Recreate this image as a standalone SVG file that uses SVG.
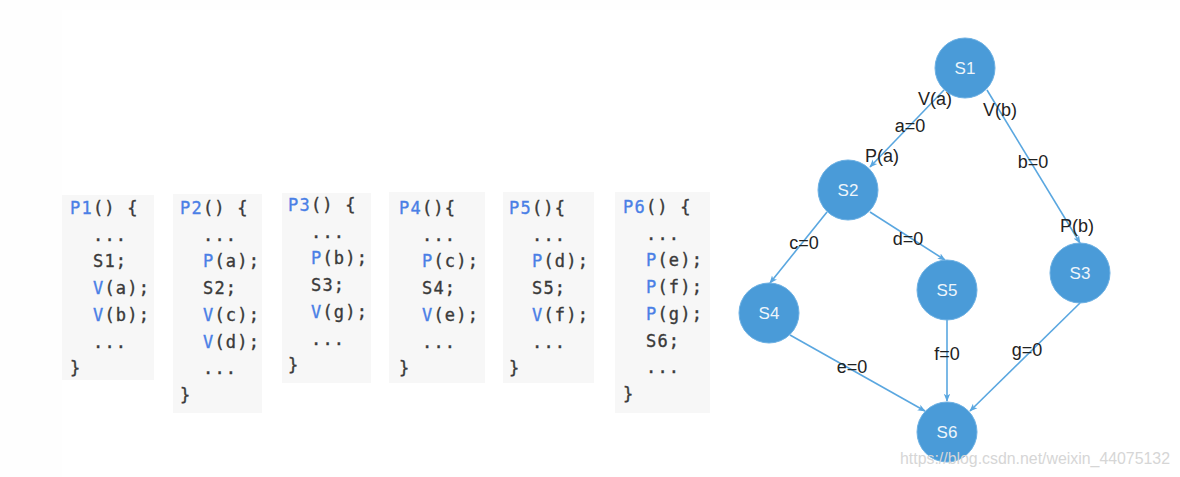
<svg xmlns="http://www.w3.org/2000/svg" width="1180" height="477" viewBox="0 0 1180 477">
<style>
.box{fill:#f7f7f7}
.code{font-family:"DejaVu Sans Mono",monospace;font-size:17px;letter-spacing:1.2px;fill:#3a3a3a;stroke:#3a3a3a;stroke-width:0.35}
.kw{fill:#4a7fe6;stroke:#4a7fe6}
.node circle{fill:#4a9bd8;stroke:#6cb0e3;stroke-width:1}
.node text{font-family:"Liberation Sans",Arial,sans-serif;font-size:17px;fill:#eef5fb;text-anchor:middle}
.edge{stroke:#5aa7e0;stroke-width:1.6;fill:none;marker-end:url(#arr)}
.lbl{font-family:"Liberation Sans",Arial,sans-serif;font-size:18px;fill:#222;text-anchor:middle}
.wm{font-family:"Liberation Sans",Arial,sans-serif;font-size:16px;fill:#d6d6d6}
</style>
<defs>
<marker id="arr" viewBox="0 0 10 10" refX="9" refY="5" markerWidth="5" markerHeight="5" orient="auto" markerUnits="strokeWidth">
<path d="M0,1 L10,5 L0,9 L2.5,5 z" fill="#5aa7e0"/>
</marker>
</defs>
<rect width="1180" height="477" fill="#fefefe"/>
<rect x="62" y="10" width="1118" height="467" fill="#ffffff"/>

<g id="code-P1">
<rect class="box" x="62" y="195" width="92" height="185"/>
<text class="code" x="70" y="214"><tspan class="kw">P1</tspan>() {</text>
<text class="code" x="93" y="240.7">...</text>
<text class="code" x="93" y="267.4">S1;</text>
<text class="code" x="93" y="294.1"><tspan class="kw">V</tspan>(a);</text>
<text class="code" x="93" y="320.8"><tspan class="kw">V</tspan>(b);</text>
<text class="code" x="93" y="347.5">...</text>
<text class="code" x="70" y="374.2">}</text>
</g>

<g id="code-P2">
<rect class="box" x="173" y="194" width="89" height="219"/>
<text class="code" x="180" y="214"><tspan class="kw">P2</tspan>() {</text>
<text class="code" x="203" y="240.7">...</text>
<text class="code" x="203" y="267.4"><tspan class="kw">P</tspan>(a);</text>
<text class="code" x="203" y="294.1">S2;</text>
<text class="code" x="203" y="320.8"><tspan class="kw">V</tspan>(c);</text>
<text class="code" x="203" y="347.5"><tspan class="kw">V</tspan>(d);</text>
<text class="code" x="203" y="374.2">...</text>
<text class="code" x="180" y="400.9">}</text>
</g>

<g id="code-P3">
<rect class="box" x="282" y="193" width="89" height="190"/>
<text class="code" x="288" y="211"><tspan class="kw">P3</tspan>() {</text>
<text class="code" x="311" y="237.7">...</text>
<text class="code" x="311" y="264.4"><tspan class="kw">P</tspan>(b);</text>
<text class="code" x="311" y="291.1">S3;</text>
<text class="code" x="311" y="317.8"><tspan class="kw">V</tspan>(g);</text>
<text class="code" x="311" y="344.5">...</text>
<text class="code" x="288" y="371.2">}</text>
</g>

<g id="code-P4">
<rect class="box" x="389" y="192" width="96" height="191"/>
<text class="code" x="399" y="214"><tspan class="kw">P4</tspan>(){</text>
<text class="code" x="422" y="240.7">...</text>
<text class="code" x="422" y="267.4"><tspan class="kw">P</tspan>(c);</text>
<text class="code" x="422" y="294.1">S4;</text>
<text class="code" x="422" y="320.8"><tspan class="kw">V</tspan>(e);</text>
<text class="code" x="422" y="347.5">...</text>
<text class="code" x="399" y="374.2">}</text>
</g>

<g id="code-P5">
<rect class="box" x="503" y="192" width="91" height="191"/>
<text class="code" x="509" y="214"><tspan class="kw">P5</tspan>(){</text>
<text class="code" x="532" y="240.7">...</text>
<text class="code" x="532" y="267.4"><tspan class="kw">P</tspan>(d);</text>
<text class="code" x="532" y="294.1">S5;</text>
<text class="code" x="532" y="320.8"><tspan class="kw">V</tspan>(f);</text>
<text class="code" x="532" y="347.5">...</text>
<text class="code" x="509" y="374.2">}</text>
</g>

<g id="code-P6">
<rect class="box" x="615" y="192" width="95" height="221"/>
<text class="code" x="623" y="213"><tspan class="kw">P6</tspan>() {</text>
<text class="code" x="646" y="239.7">...</text>
<text class="code" x="646" y="266.4"><tspan class="kw">P</tspan>(e);</text>
<text class="code" x="646" y="293.1"><tspan class="kw">P</tspan>(f);</text>
<text class="code" x="646" y="319.8"><tspan class="kw">P</tspan>(g);</text>
<text class="code" x="646" y="346.5">S6;</text>
<text class="code" x="646" y="373.2">...</text>
<text class="code" x="623" y="399.9">}</text>
</g>

<g id="connectors">
<line class="edge" x1="944" y1="90" x2="870" y2="167"/>
<line class="edge" x1="987" y1="90" x2="1080" y2="243"/>
<line class="edge" x1="827" y1="212" x2="770" y2="283"/>
<line class="edge" x1="870" y1="212" x2="945" y2="260"/>
<line class="edge" x1="790" y1="335" x2="925" y2="411"/>
<line class="edge" x1="947" y1="320" x2="947" y2="401"/>
<line class="edge" x1="1080" y1="303" x2="970" y2="411"/>
<text class="lbl" x="935" y="105">V(a)</text>
<text class="lbl" x="910" y="132">a=0</text>
<text class="lbl" x="882" y="162">P(a)</text>
<text class="lbl" x="1000" y="116">V(b)</text>
<text class="lbl" x="1033" y="168">b=0</text>
<text class="lbl" x="1077" y="232">P(b)</text>
<text class="lbl" x="804" y="249">c=0</text>
<text class="lbl" x="908" y="245">d=0</text>
<text class="lbl" x="852" y="373">e=0</text>
<text class="lbl" x="947" y="360">f=0</text>
<text class="lbl" x="1027" y="356">g=0</text>
</g>

<g id="S1" class="node"><circle cx="965" cy="68" r="30"/><text x="965" y="74">S1</text></g>
<g id="S2" class="node"><circle cx="848" cy="190" r="30"/><text x="848" y="196">S2</text></g>
<g id="S3" class="node"><circle cx="1080" cy="273" r="30"/><text x="1080" y="279">S3</text></g>
<g id="S4" class="node"><circle cx="769" cy="313" r="30"/><text x="769" y="319">S4</text></g>
<g id="S5" class="node"><circle cx="947" cy="290" r="30"/><text x="947" y="296">S5</text></g>
<g id="S6" class="node"><circle cx="947" cy="432" r="30"/><text x="947" y="438">S6</text></g>

<text class="wm" x="900" y="464" textLength="270" lengthAdjust="spacingAndGlyphs">https://blog.csdn.net/weixin_44075132</text>
</svg>
